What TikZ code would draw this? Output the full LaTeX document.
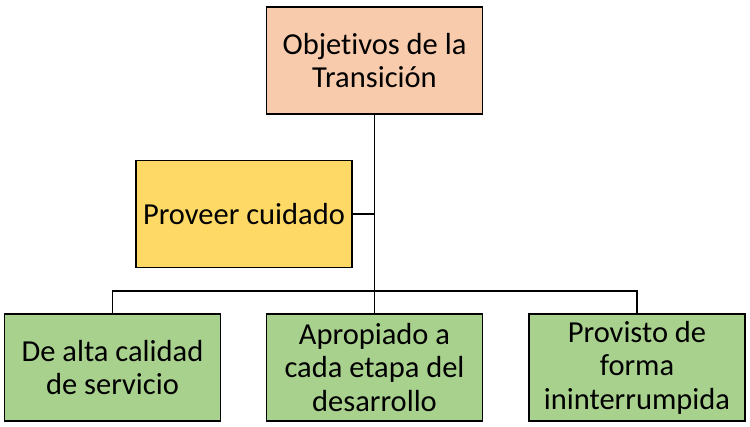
\documentclass[tikz,border=0pt]{standalone}
\usepackage{fontspec}
\setmainfont[Ligatures=NoCommon]{Carlito}
\definecolor{orangefill}{HTML}{F8CBAD}
\definecolor{yellowfill}{HTML}{FFD966}
\definecolor{greenfill}{HTML}{A9D18E}
\begin{document}
\begin{tikzpicture}[x=1pt,y=-1pt,
  box/.style={draw=black, line width=1.5pt, minimum width=216pt, minimum height=107pt, align=center, inner sep=0pt, font=\fontsize{30.5}{33.5}\selectfont},
  link/.style={draw=black, line width=1.6pt}]
\useasboundingbox (0,0) rectangle (750,426);
\node[box, fill=orangefill] (top) at (374.5,60.5) {Objetivos de la\\Transición};
\node[box, fill=yellowfill] (care) at (244,214) {Proveer cuidado};
\node[box, fill=greenfill] (b1) at (112.5,367.5) {De alta calidad\\de servicio};
\node[box, fill=greenfill] (b2) at (374.5,367.5) {Apropiado a\\cada etapa del\\desarrollo};
\node[box, fill=greenfill] (b3) at (637,367.5) {Provisto de\\forma\\ininterrumpida};
\coordinate (bus) at (374.5,291);
\draw[link] (top.south) -- (bus);
\draw[link] (care.east) -- (care.east -| top.south);
\draw[link] (b1.north) |- (bus) -| (b3.north);
\draw[link] (bus) -- (b2.north);
\end{tikzpicture}
\end{document}
